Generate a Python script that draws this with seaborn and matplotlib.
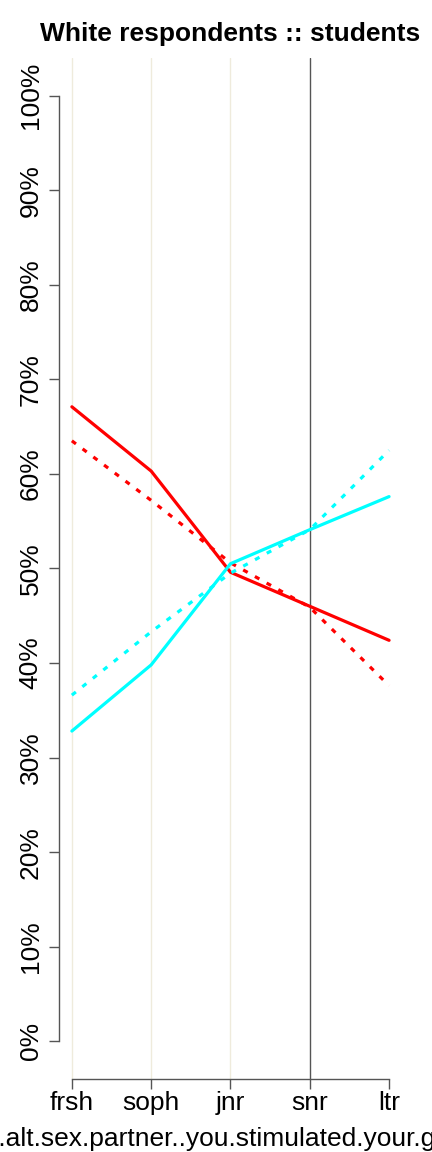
import matplotlib
matplotlib.use('Agg')
import matplotlib.pyplot as plt
import seaborn as sns
import pandas as pd

# ── DATA ─────────────────────────────────────────────────────
YEARS = ["frsh", "soph", "jnr", "snr", "ltr"]
RED_SOLID = [67.1, 60.3, 49.6, 46.0, 42.4]
RED_DOTTED = [63.5, 57.2, 50.6, 45.9, 37.6]
CYAN_SOLID = [32.8, 39.8, 50.5, 54.1, 57.6]
CYAN_DOTTED = [36.6, 43.3, 49.5, 54.1, 62.5]
Y_TICKS = list(range(0, 101, 10))
XLABEL = "who.alt.sex.partner..you.stimulated.your.genitals"

rows = []
for name, vals in [("red_solid", RED_SOLID), ("red_dotted", RED_DOTTED),
                   ("cyan_solid", CYAN_SOLID), ("cyan_dotted", CYAN_DOTTED)]:
    for i, v in enumerate(vals):
        rows.append({"x": i, "pct": v, "series": name})
df = pd.DataFrame(rows)

sns.set_style("ticks")
plt.rcParams['font.family'] = ['Liberation Sans', 'DejaVu Sans']
plt.rcParams['text.color'] = 'black'
plt.rcParams['xtick.color'] = 'black'
plt.rcParams['ytick.color'] = 'black'

fig = plt.figure(figsize=(4.32, 11.52), dpi=100)
ax = fig.add_axes([0.137, 0.0634, 0.793, 0.8863])

# vertical reference lines
for i in range(3):
    ax.axvline(i, color="#efebdc", lw=1, zorder=0)
ax.axvline(3, color="#555555", lw=1, zorder=0)

palette = {"red_solid": "#ff0000", "red_dotted": "#ff0000",
           "cyan_solid": "#00ffff", "cyan_dotted": "#00ffff"}
dashes = {"red_solid": "", "red_dotted": (1.6, 2.6),
          "cyan_solid": "", "cyan_dotted": (1.6, 2.6)}
sns.lineplot(data=df, x="x", y="pct", hue="series", style="series",
             palette=palette, dashes=dashes, lw=2.3, legend=False, ax=ax)

ax.set_xlim(-0.16, 4.16)
ax.set_ylim(-4, 104)
ax.set_xticks(range(len(YEARS)))
ax.set_xticklabels(YEARS, fontsize=19)
ax.set_yticks(Y_TICKS)
ax.set_yticklabels([f"{t}%" for t in Y_TICKS], fontsize=19, rotation=90, va="center")
ax.tick_params(axis="both", length=7, width=1, color="#555555", labelcolor="black")
ax.tick_params(axis="y", pad=5)
ax.tick_params(axis="x", pad=2)
ax.spines["top"].set_visible(False)
ax.spines["right"].set_visible(False)
ax.spines["left"].set_bounds(0, 100)
ax.spines["bottom"].set_bounds(0, 4)
for s in ("left", "bottom"):
    ax.spines[s].set_color("#555555")
    ax.spines[s].set_linewidth(1)
ax.set_xlabel(XLABEL, fontsize=19, labelpad=8, color="black")
ax.set_ylabel("")
ax.set_title("White respondents :: students", fontsize=19, fontweight="bold",
             pad=12, color="black")

fig.savefig("out.png", dpi=100)
